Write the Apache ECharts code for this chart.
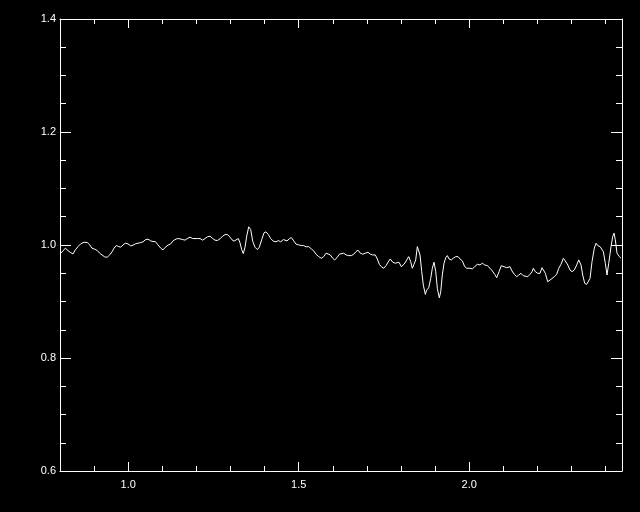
<!DOCTYPE html>
<html>
<head>
<meta charset="utf-8">
<script src="https://cdn.jsdelivr.net/npm/echarts@6/dist/echarts.min.js"></script>
<style>html,body{margin:0;padding:0;background:#000;}#c{width:640px;height:512px;}</style>
</head>
<body>
<div id="c"></div>
<script>
var wave = [0.8021,0.8088,0.8155,0.8235,0.8314,0.8381,0.8449,0.8528,0.8607,0.8704,0.8801,0.8871,0.8938,0.9018,0.9094,0.9164,0.9232,0.9311,0.9387,0.9457,0.9525,0.9584,0.9651,0.9721,0.9780,0.9848,0.9915,0.9994,1.0073,1.0141,1.0208,1.0287,1.0367,1.0434,1.0501,1.0581,1.0660,1.0727,1.0795,1.0874,1.0953,1.1021,1.1088,1.1167,1.1246,1.1305,1.1372,1.1440,1.1519,1.1598,1.1666,1.1733,1.1812,1.1891,1.1959,1.2026,1.2106,1.2185,1.2252,1.2320,1.2399,1.2478,1.2545,1.2613,1.2692,1.2771,1.2839,1.2906,1.2965,1.3035,1.3103,1.3161,1.3229,1.3279,1.3328,1.3375,1.3425,1.3475,1.3534,1.3592,1.3651,1.3718,1.3786,1.3845,1.3915,1.3982,1.4041,1.4109,1.4179,1.4255,1.4334,1.4402,1.4472,1.4548,1.4590,1.4657,1.4724,1.4783,1.4853,1.4921,1.5000,1.5076,1.5147,1.5214,1.5293,1.5370,1.5440,1.5507,1.5587,1.5663,1.5733,1.5801,1.5859,1.5927,1.5997,1.6056,1.6123,1.6191,1.6249,1.6320,1.6387,1.6466,1.6543,1.6613,1.6680,1.6739,1.6806,1.6877,1.6953,1.7032,1.7100,1.7170,1.7246,1.7305,1.7364,1.7422,1.7493,1.7560,1.7619,1.7686,1.7757,1.7833,1.7874,1.7941,1.8009,1.8088,1.8167,1.8226,1.8284,1.8331,1.8381,1.8431,1.8478,1.8519,1.8557,1.8607,1.8654,1.8713,1.8754,1.8812,1.8871,1.8918,1.8968,1.9018,1.9065,1.9123,1.9164,1.9211,1.9261,1.9311,1.9358,1.9408,1.9475,1.9534,1.9604,1.9672,1.9730,1.9798,1.9868,1.9927,1.9965,2.0023,2.0091,2.0161,2.0238,2.0317,2.0384,2.0455,2.0531,2.0610,2.0678,2.0748,2.0806,2.0874,2.0941,2.1021,2.1100,2.1158,2.1196,2.1255,2.1323,2.1393,2.1452,2.1519,2.1587,2.1645,2.1716,2.1783,2.1842,2.1880,2.1939,2.2009,2.2076,2.2135,2.2173,2.2232,2.2302,2.2370,2.2428,2.2496,2.2566,2.2625,2.2692,2.2760,2.2818,2.2889,2.2956,2.3015,2.3082,2.3152,2.3211,2.3279,2.3328,2.3387,2.3446,2.3504,2.3543,2.3601,2.3669,2.3719,2.3768,2.3836,2.3894,2.3933,2.3991,2.4041,2.4091,2.4158,2.4208,2.4246,2.4284,2.4334,2.4402,2.4452];
var flux = [0.9855,0.9896,0.9944,0.9901,0.9865,0.9842,0.9913,0.9972,1.0020,1.0050,1.0043,1.0002,0.9944,0.9926,0.9901,0.9855,0.9824,0.9789,0.9784,0.9824,0.9878,0.9944,0.9990,0.9972,0.9961,1.0002,1.0032,1.0020,0.9984,0.9997,1.0020,1.0032,1.0043,1.0056,1.0091,1.0104,1.0073,1.0061,1.0061,1.0002,0.9944,0.9913,0.9961,0.9997,1.0020,1.0068,1.0096,1.0114,1.0109,1.0096,1.0086,1.0114,1.0139,1.0114,1.0114,1.0114,1.0114,1.0086,1.0114,1.0144,1.0157,1.0114,1.0086,1.0079,1.0109,1.0157,1.0185,1.0185,1.0157,1.0096,1.0068,1.0096,1.0114,1.0038,0.9919,0.9848,0.9961,1.0157,1.0322,1.0274,1.0068,0.9961,0.9919,0.9961,1.0096,1.0216,1.0233,1.0185,1.0114,1.0068,1.0056,1.0079,1.0056,1.0096,1.0091,1.0073,1.0109,1.0132,1.0073,1.0015,1.0002,0.9990,0.9990,0.9967,0.9972,0.9931,0.9896,0.9837,0.9794,0.9766,0.9794,0.9855,0.9872,0.9824,0.9766,0.9736,0.9776,0.9837,0.9872,0.9855,0.9824,0.9812,0.9812,0.9837,0.9883,0.9908,0.9855,0.9837,0.9855,0.9872,0.9837,0.9824,0.9824,0.9753,0.9659,0.9616,0.9588,0.9634,0.9695,0.9753,0.9695,0.9677,0.9705,0.9695,0.9616,0.9659,0.9736,0.9794,0.9705,0.9588,0.9659,0.9736,0.9972,0.9990,0.9824,0.9528,0.9291,0.9126,0.9202,0.9243,0.9410,0.9588,0.9695,0.9528,0.9232,0.9065,0.9172,0.9469,0.9677,0.9776,0.9812,0.9753,0.9736,0.9766,0.9794,0.9794,0.9753,0.9718,0.9616,0.9588,0.9616,0.9588,0.9576,0.9616,0.9659,0.9647,0.9677,0.9647,0.9634,0.9588,0.9540,0.9481,0.9421,0.9528,0.9634,0.9616,0.9599,0.9599,0.9616,0.9540,0.9481,0.9439,0.9469,0.9499,0.9456,0.9439,0.9439,0.9481,0.9528,0.9588,0.9528,0.9499,0.9499,0.9599,0.9616,0.9499,0.9350,0.9380,0.9410,0.9439,0.9481,0.9588,0.9659,0.9766,0.9718,0.9647,0.9558,0.9528,0.9558,0.9647,0.9736,0.9647,0.9469,0.9321,0.9304,0.9291,0.9410,0.9705,0.9944,1.0032,0.9990,0.9972,0.9972,0.9883,0.9677,0.9469,0.9677,0.9972,1.0150,1.0210,1.0091,0.9855,0.9794,0.9766];

var xMajorTicks = [1.0, 1.5, 2.0];
var xMinorTicks = [0.9, 1.1, 1.2, 1.3, 1.4, 1.6, 1.7, 1.8, 1.9, 2.1, 2.2, 2.3, 2.4];
var yMajorTicks = [0.6, 0.8, 1.0, 1.2, 1.4];
var yMinorTicks = [0.65, 0.7, 0.75, 0.85, 0.9, 0.95, 1.05, 1.1, 1.15, 1.25, 1.3, 1.35];
var xRange = [0.8, 2.448];
var yRange = [0.6, 1.4];

var data = wave.map(function (w, i) { return [w, flux[i]]; });

var WHITE = '#ffffff';
var FONT = 'Liberation Sans';

function makeAxis(pos, range, ticks, len, showLine, showLabel, margin) {
  return {
    type: 'value',
    position: pos,
    min: range[0],
    max: range[1],
    axisLine: { show: showLine, onZero: false, lineStyle: { color: WHITE, width: 1 } },
    axisTick: { show: true, inside: true, length: len, customValues: ticks, lineStyle: { color: WHITE, width: 1 } },
    axisLabel: {
      show: showLabel,
      customValues: ticks,
      color: WHITE,
      fontFamily: FONT,
      fontSize: 11,
      margin: margin,
      formatter: function (v) { return v.toFixed(1); }
    },
    splitLine: { show: false },
    minorTick: { show: false },
    minorSplitLine: { show: false }
  };
}

var chart = echarts.init(document.getElementById('c'), null, { renderer: 'canvas' });
chart.setOption({
  backgroundColor: '#000000',
  animation: false,
  grid: { left: 60, right: 18, top: 19, bottom: 41, containLabel: false },
  xAxis: [
    makeAxis('bottom', xRange, xMajorTicks, 9, true, true, 8),
    makeAxis('bottom', xRange, xMinorTicks, 5, false, false, 8),
    makeAxis('top', xRange, xMajorTicks, 9, true, false, 8),
    makeAxis('top', xRange, xMinorTicks, 5, false, false, 8)
  ],
  yAxis: [
    makeAxis('left', yRange, yMajorTicks, 11, true, true, 4),
    makeAxis('left', yRange, yMinorTicks, 6, false, false, 4),
    makeAxis('right', yRange, yMajorTicks, 11, true, false, 4),
    makeAxis('right', yRange, yMinorTicks, 6, false, false, 4)
  ],
  series: [{
    type: 'line',
    xAxisIndex: 0,
    yAxisIndex: 0,
    data: data,
    showSymbol: false,
    symbol: 'none',
    clip: true,
    lineStyle: { color: WHITE, width: 1 }
  }]
});
</script>
</body>
</html>
